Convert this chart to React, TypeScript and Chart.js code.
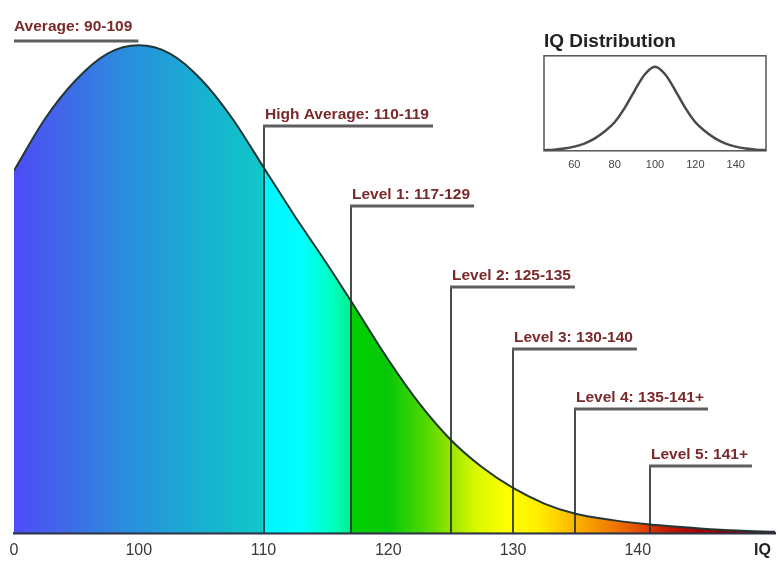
import React, { useEffect, useRef } from "react";
import { Chart, registerables } from "chart.js";

Chart.register(...registerables);

// ---- main curve data (IQ vs relative frequency, % of peak) ----
const iqPoints = [90, 92.5, 95, 97.5, 100, 102.5, 105, 107.5, 110, 112.5, 115, 117, 120, 122.5, 125, 127.5, 130, 132.5, 135, 138, 141, 145, 148, 151];
const densityPct = [74.3, 85, 93, 98.3, 100, 98.3, 93, 85, 75, 65, 55.5, 47.6, 35.5, 26.5, 19.1, 13.5, 9.2, 6, 3.9, 2.6, 1.7, 0.9, 0.45, 0.2];

const xTickValues = [90, 100, 110, 120, 130, 140, 150];
const xTickLabels = ["0", "100", "110", "120", "130", "140", "IQ"];

const averageLabel = "Average: 90-109";
const averageStart = 90;
const levelStarts = [110, 117, 125, 130, 135, 141];
const levelLabels = [
  "High Average: 110-119",
  "Level 1: 117-129",
  "Level 2: 125-135",
  "Level 3: 130-140",
  "Level 4: 135-141+",
  "Level 5: 141+",
];

// ---- inset data ----
const insetIq = [45, 50, 55, 60, 65, 70, 75, 80, 85, 90, 95, 100, 105, 110, 115, 120, 125, 130, 135, 140, 145, 150, 155];
const insetDensity = [0.6, 1.4, 2.8, 5, 8.6, 14.5, 23, 34, 51, 72, 91, 100, 91, 72, 51, 34, 23, 14.5, 8.6, 5, 2.8, 1.4, 0.6];
const insetTickValues = [60, 80, 100, 120, 140];
const insetTitle = "IQ Distribution";

// ---- styling / layout (not data) ----
const FONT = '"Liberation Sans", Arial, Helvetica, sans-serif';
const AVERAGE_UNDERLINE_Y = 41;
const LEVEL_UNDERLINE_Y = [126, 206, 287, 349, 409, 466];
const FILL_STOPS: [number, string][] = [
  [90, "#4d4cf8"],
  [94, "#4068e8"],
  [99, "#2a8ede"],
  [105, "#18b0d0"],
  [109.9, "#10c8c8"],
  [110, "#00f4ff"],
  [113, "#00ffff"],
  [115.5, "#00ffc0"],
  [116.9, "#00f090"],
  [117, "#00d000"],
  [120, "#08c808"],
  [123, "#50d800"],
  [125, "#98e400"],
  [127, "#d8f800"],
  [129.5, "#ffff00"],
  [132, "#fff000"],
  [134, "#ffc800"],
  [136, "#f8a000"],
  [138.5, "#ec7000"],
  [140.5, "#e04400"],
  [142, "#c82000"],
  [145, "#a00000"],
  [151, "#780000"],
];

const levelsPlugin = {
  id: "levels",
  afterDatasetsDraw(chart: any) {
    const { ctx, scales } = chart;
    const x = scales.x;
    const y = scales.y;
    const base = y.getPixelForValue(0);
    ctx.save();
    ctx.font = `bold 15.5px ${FONT}`;
    ctx.textBaseline = "alphabetic";
    ctx.textAlign = "left";

    // Average label
    {
      const px = x.getPixelForValue(averageStart);
      const tw = ctx.measureText(averageLabel).width;
      ctx.strokeStyle = "#5e5e5e";
      ctx.lineWidth = 3;
      ctx.beginPath();
      ctx.moveTo(px, AVERAGE_UNDERLINE_Y);
      ctx.lineTo(px + tw + 6, AVERAGE_UNDERLINE_Y);
      ctx.stroke();
      ctx.fillStyle = "#7a2a2a";
      ctx.fillText(averageLabel, px, AVERAGE_UNDERLINE_Y - 10);
    }

    levelStarts.forEach((v, i) => {
      const px = Math.round(x.getPixelForValue(v));
      const uy = LEVEL_UNDERLINE_Y[i];
      const label = levelLabels[i];
      const tw = ctx.measureText(label).width;
      ctx.strokeStyle = "rgba(40,46,46,0.85)";
      ctx.lineWidth = 2;
      ctx.beginPath();
      ctx.moveTo(px, uy);
      ctx.lineTo(px, base);
      ctx.stroke();
      ctx.strokeStyle = "#5e5e5e";
      ctx.lineWidth = 3;
      ctx.beginPath();
      ctx.moveTo(px - 1, uy);
      ctx.lineTo(px + tw + 5, uy);
      ctx.stroke();
      ctx.fillStyle = "#7a2a2a";
      ctx.fillText(label, px + 1, uy - 7);
    });
    ctx.restore();
  },
};

const boxPlugin = {
  id: "insetBox",
  beforeDatasetsDraw(chart: any) {
    const { ctx, chartArea } = chart;
    ctx.save();
    ctx.strokeStyle = "#555";
    ctx.lineWidth = 1.5;
    ctx.strokeRect(chartArea.left, chartArea.top, chartArea.right - chartArea.left, chartArea.bottom - chartArea.top);
    ctx.restore();
  },
};

export default function App() {
  const mainRef = useRef<HTMLCanvasElement | null>(null);
  const insetRef = useRef<HTMLCanvasElement | null>(null);

  useEffect(() => {
    if (!mainRef.current || !insetRef.current) return;

    const main = new Chart(mainRef.current, {
      type: "line",
      data: {
        datasets: [
          {
            data: iqPoints.map((v, i) => ({ x: v, y: densityPct[i] })),
            borderColor: "#223636",
            borderWidth: 2,
            pointRadius: 0,
            cubicInterpolationMode: "monotone",
            fill: "origin",
            backgroundColor: (c: any) => {
              const chart = c.chart;
              const area = chart.chartArea;
              if (!area) return "rgba(0,0,0,0)";
              const xs = chart.scales.x;
              const g = chart.ctx.createLinearGradient(area.left, 0, area.right, 0);
              const w = area.right - area.left;
              FILL_STOPS.forEach(([iq, col]) => {
                const t = (xs.getPixelForValue(iq) - area.left) / w;
                g.addColorStop(Math.min(1, Math.max(0, t)), col);
              });
              return g;
            },
          } as any,
        ],
      },
      options: {
        animation: false,
        responsive: false,
        maintainAspectRatio: false,
        layout: { padding: { left: 14, right: 0, top: 21, bottom: 0 } },
        plugins: {
          legend: { display: false },
          tooltip: { enabled: false },
          title: { display: false },
        },
        scales: {
          x: {
            type: "linear",
            min: 90,
            max: 151,
            z: 1,
            afterBuildTicks: (s: any) => {
              s.ticks = xTickValues.map((v) => ({ value: v }));
            },
            ticks: {
              autoSkip: false,
              maxRotation: 0,
              padding: 8,
              color: (c: any) => (c.index === xTickValues.length - 1 ? "#222" : "#3a3a3a"),
              font: (c: any) => ({
                family: FONT,
                size: 16,
                weight: c.index === xTickValues.length - 1 ? "bold" : "normal",
              }),
              callback: (value: any) => {
                const idx = xTickValues.indexOf(Number(value));
                return idx >= 0 ? xTickLabels[idx] : "";
              },
            },
            grid: { display: false, drawTicks: false },
            border: { display: true, color: "#2e3446", width: 2.5 },
          },
          y: { display: false, min: 0, max: 105 },
        },
      } as any,
      plugins: [levelsPlugin],
    });

    const inset = new Chart(insetRef.current, {
      type: "line",
      data: {
        datasets: [
          {
            data: insetIq.map((v, i) => ({ x: v, y: insetDensity[i] })),
            borderColor: "#4a4a4a",
            borderWidth: 2.5,
            pointRadius: 0,
            cubicInterpolationMode: "monotone",
            fill: false,
          } as any,
        ],
      },
      options: {
        animation: false,
        responsive: false,
        maintainAspectRatio: false,
        layout: { padding: { left: 14, right: 13, top: 0, bottom: 10 } },
        plugins: {
          legend: { display: false },
          tooltip: { enabled: false },
          title: {
            display: true,
            text: insetTitle,
            align: "start",
            color: "#222",
            font: { family: FONT, size: 19, weight: "bold" },
            padding: { top: 10, bottom: 3 },
          },
        },
        scales: {
          x: {
            type: "linear",
            min: 45,
            max: 155,
            afterBuildTicks: (s: any) => {
              s.ticks = insetTickValues.map((v) => ({ value: v }));
            },
            ticks: {
              autoSkip: false,
              maxRotation: 0,
              padding: 8,
              color: "#444",
              font: { family: FONT, size: 11 },
            },
            grid: { display: false, drawTicks: false },
            border: { display: false },
          },
          y: { display: false, min: 0, max: 113 },
        },
      } as any,
      plugins: [boxPlugin],
    });

    return () => {
      main.destroy();
      inset.destroy();
    };
  }, []);

  return (
    <div style={{ position: "fixed", left: 0, top: 0, width: 779, height: 565, background: "#fff", overflow: "hidden" }}>
      <canvas ref={mainRef} width={779} height={568} style={{ position: "absolute", left: 0, top: 0 }} />
      <canvas ref={insetRef} width={249} height={170} style={{ position: "absolute", left: 530, top: 20 }} />
    </div>
  );
}
